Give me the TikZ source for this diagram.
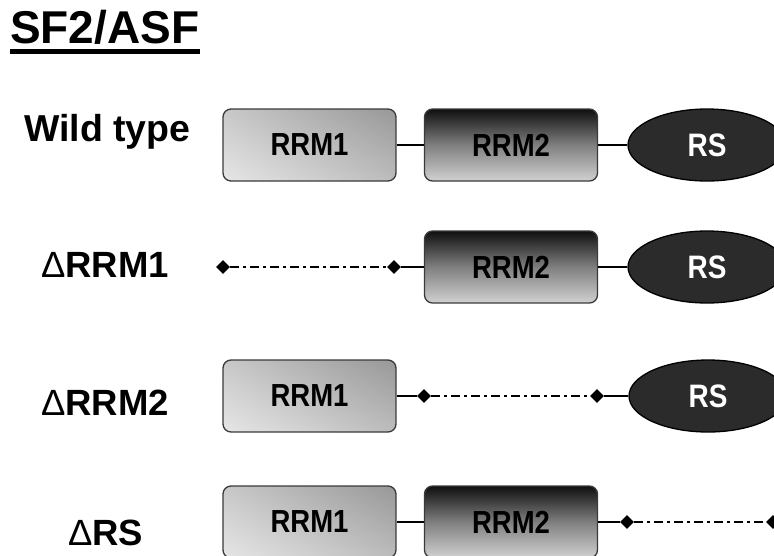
\documentclass[tikz,border=0pt]{standalone}
\usepackage{fontspec}
\setmainfont{Liberation Sans}
\usetikzlibrary{shapes.geometric,shadings}
\definecolor{rsfill}{HTML}{2B2B2B}
\definecolor{boxline}{HTML}{3A3A3A}
\definecolor{ulc}{HTML}{C8C8C8}
\definecolor{urc}{HTML}{989898}
\definecolor{llc}{HTML}{E6E6E6}
\definecolor{lrc}{HTML}{BCBCBC}
\newcommand{\tallt}[1]{\scalebox{1}[1.16]{#1}}
\tikzset{
  rrmone/.style={rectangle, rounded corners=8pt, draw=boxline, line width=1.3pt,
    minimum width=173pt, minimum height=72pt, inner sep=0pt,
    upper left=ulc, upper right=urc, lower left=llc, lower right=lrc,
    font=\fontsize{27.5}{30}\selectfont\bfseries},
  rrmtwo/.style={rectangle, rounded corners=8pt, draw=boxline, line width=1.3pt,
    minimum width=173pt, minimum height=72pt, inner sep=0pt,
    top color=black!94, bottom color=black!18, middle color=black!50,
    font=\fontsize{27.5}{30}\selectfont\bfseries},
  rsdom/.style={ellipse, draw=black, line width=1.3pt, fill=rsfill, text=white,
    minimum width=158pt, minimum height=72pt, inner sep=0pt,
    font=\fontsize{28}{30}\selectfont\bfseries},
  tip/.style={diamond, fill=black, inner sep=0pt, minimum width=14pt, minimum height=14pt},
  link/.style={line width=2pt},
  gap/.style={line width=2.2pt, dash pattern=on 9pt off 4pt on 3pt off 4pt},
  rowlabel/.style={anchor=base west, inner sep=0pt, font=\fontsize{36.5}{40}\selectfont\bfseries},
}
\begin{document}
\begin{tikzpicture}[x=1pt,y=-1pt]
\useasboundingbox (0,0) rectangle (774,555);
\clip (0,0) rectangle (774,555);
% title
\node[anchor=base west, inner sep=0pt, font=\fontsize{46}{50}\selectfont\bfseries] (title) at (10,43) {SF2/ASF};
\coordinate (ulA) at (10,51.5);
\coordinate (ulB) at (200,51.5);
\draw[line width=4.5pt] (ulA) -- (ulB);
% labels
\node[rowlabel, font=\fontsize{37.5}{40}\selectfont\bfseries] (lwt) at (24,141) {Wild type};
\node[rowlabel] (lr1) at (41,277) {{\mdseries Δ}RRM1};
\node[rowlabel] (lr2) at (41,415) {{\mdseries Δ}RRM2};
\node[rowlabel] (lrs) at (68,545) {{\mdseries Δ}RS};
% row 1
\node[rrmone] (a1) at (309.5,145) {\tallt{RRM1}};
\node[rrmtwo] (a2) at (511,145) {\tallt{RRM2}};
\node[rsdom] (a3) at (707,145) {\tallt{RS}};
\draw[link] (a1.east) -- (a2.west);
\draw[link] (a2.east) -- (a3.west);
% row 2
\node[tip] (b0) at (223,267) {};
\node[tip] (b1) at (394,267) {};
\node[rrmtwo] (b2) at (511,267) {\tallt{RRM2}};
\node[rsdom] (b3) at (707,267) {\tallt{RS}};
\draw[gap] (b0) -- (b1);
\draw[link] (b1) -- (b2.west);
\draw[link] (b2.east) -- (b3.west);
% row 3
\node[rrmone] (c1) at (309.5,396) {\tallt{RRM1}};
\node[tip] (c2) at (424,396) {};
\node[tip] (c3) at (597,396) {};
\node[rsdom] (c4) at (708,396) {\tallt{RS}};
\draw[link] (c1.east) -- (c2);
\draw[gap] (c2) -- (c3);
\draw[link] (c3) -- (c4.west);
% row 4
\node[rrmone] (d1) at (309.5,522) {\tallt{RRM1}};
\node[rrmtwo] (d2) at (511,522) {\tallt{RRM2}};
\node[tip] (d3) at (627,522) {};
\node[tip] (d4) at (773,522) {};
\draw[link] (d1.east) -- (d2.west);
\draw[link] (d2.east) -- (d3);
\draw[gap] (d3) -- (d4);
\end{tikzpicture}
\end{document}
